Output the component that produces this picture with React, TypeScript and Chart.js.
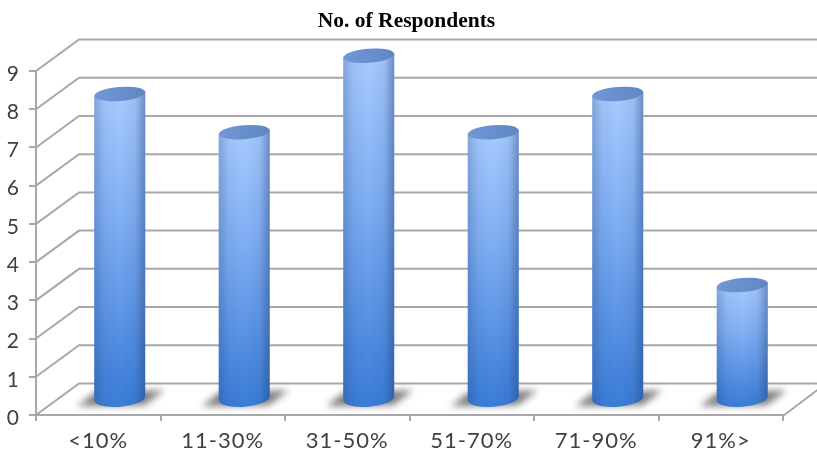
import React, { useEffect, useRef } from "react";
import { Chart, CategoryScale, registerables } from "chart.js";

// Category axis whose tick labels are set with a little extra tracking.
class SpacedCategoryScale extends CategoryScale {
  static id = "spacedCategory";
  static defaults = CategoryScale.defaults;
  drawLabels(area: any) {
    const ctx = (this as any).ctx;
    ctx.save();
    ctx.letterSpacing = "1px";
    (CategoryScale.prototype as any).drawLabels.call(this, area);
    ctx.restore();
  }
}

Chart.register(...registerables, SpacedCategoryScale);

const categories = ["<10%", "11-30%", "31-50%", "51-70%", "71-90%", "91%>"];
const respondents = [8, 7, 9, 7, 8, 3];
const yTicks = [0, 1, 2, 3, 4, 5, 6, 7, 8, 9];
const chartTitle = "No. of Respondents";

const GRID = "#a8a8a8";
const DEPTH_X = 43;
const DEPTH_Y = 31.5;
const TILT = -0.08;

// Perspective walls and floor, drawn behind the columns from the y scale.
const wallGrid = {
  id: "wallGrid",
  beforeDatasetsDraw(chart: any) {
    const { ctx, chartArea, scales } = chart;
    ctx.save();
    ctx.strokeStyle = GRID;
    ctx.lineWidth = 2;
    for (const v of yTicks) {
      const y = scales.y.getPixelForValue(v);
      ctx.beginPath();
      ctx.moveTo(chartArea.left, y);
      ctx.lineTo(chartArea.left + DEPTH_X, y - DEPTH_Y);
      ctx.lineTo(chartArea.right + DEPTH_X, y - DEPTH_Y);
      ctx.stroke();
    }
    const y0 = scales.y.getPixelForValue(0);
    ctx.beginPath();
    ctx.moveTo(chartArea.right, y0 + 1);
    ctx.lineTo(chartArea.right + DEPTH_X, y0 - DEPTH_Y);
    ctx.stroke();
    ctx.restore();
  },
};

// Each bar element becomes a cylinder standing halfway back on the floor.
const cylinders = {
  id: "cylinders",
  afterDatasetsDraw(chart: any) {
    const { ctx } = chart;
    const offX = DEPTH_X / 2;
    const offY = DEPTH_Y / 2;
    for (const bar of chart.getDatasetMeta(0).data) {
      const cx = bar.x + offX;
      const rx = bar.width / 2;
      const topY = bar.y - offY;
      const baseY = bar.base - offY;
      const left = cx - rx;
      const right = cx + rx;

      // soft floor shadow
      ctx.save();
      ctx.filter = "blur(3.5px)";
      ctx.fillStyle = "rgba(95,95,95,0.8)";
      ctx.beginPath();
      ctx.moveTo(cx - rx - 17, baseY + 8);
      ctx.lineTo(cx - rx + 1, baseY - 6);
      ctx.lineTo(cx + rx + 19, baseY - 8);
      ctx.lineTo(cx + rx - 1, baseY + 7);
      ctx.closePath();
      ctx.fill();
      ctx.restore();

      const dy = rx * Math.sin(-TILT);
      const body = () => {
        ctx.beginPath();
        ctx.moveTo(left, topY + dy);
        ctx.lineTo(left, baseY + dy);
        ctx.ellipse(cx, baseY, rx, 8.5, TILT, Math.PI, 0, true);
        ctx.lineTo(right, topY - dy);
        ctx.closePath();
      };

      ctx.save();
      const vert = ctx.createLinearGradient(0, topY, 0, baseY + 8);
      vert.addColorStop(0, "#a8cbff");
      vert.addColorStop(0.4, "#80aff4");
      vert.addColorStop(1, "#3a7dd8");
      body();
      ctx.fillStyle = vert;
      ctx.fill();

      const horiz = ctx.createLinearGradient(left, 0, right, 0);
      horiz.addColorStop(0, "rgba(25,55,110,0.26)");
      horiz.addColorStop(0.2, "rgba(25,55,110,0.06)");
      horiz.addColorStop(0.5, "rgba(25,55,110,0)");
      horiz.addColorStop(0.8, "rgba(25,55,110,0.08)");
      horiz.addColorStop(1, "rgba(25,55,110,0.42)");
      body();
      ctx.fillStyle = horiz;
      ctx.fill();

      const cap = ctx.createLinearGradient(left, 0, right, 0);
      cap.addColorStop(0, "#7098d6");
      cap.addColorStop(1, "#5f87c4");
      ctx.beginPath();
      ctx.ellipse(cx, topY + 0.5, rx, 7, TILT, 0, Math.PI * 2);
      ctx.fillStyle = cap;
      ctx.fill();
      ctx.restore();
    }
  },
};

export default function App() {
  const canvasRef = useRef<HTMLCanvasElement>(null);

  useEffect(() => {
    const chart = new Chart(canvasRef.current as HTMLCanvasElement, {
      type: "bar",
      data: {
        labels: categories,
        datasets: [
          {
            label: chartTitle,
            data: respondents,
            backgroundColor: "rgba(0,0,0,0)",
            barPercentage: 0.41,
            categoryPercentage: 1,
            yAxisID: "y",
          },
        ],
      },
      plugins: [wallGrid, cylinders],
      options: {
        responsive: false,
        animation: false,
        events: [],
        layout: { padding: { right: 4 } },
        plugins: {
          legend: { display: false },
          tooltip: { enabled: false },
          title: {
            display: true,
            text: chartTitle,
            color: "#000000",
            font: { family: "'Liberation Serif'", size: 21.5, weight: "bold", lineHeight: 1.2 },
            padding: { top: 9, bottom: 36.2 },
          },
        },
        scales: {
          x: {
            type: "spacedCategory",
            offset: true,
            afterFit(scale: any) {
              scale.height = 37;
            },
            border: { color: GRID, width: 2 },
            grid: {
              offset: true,
              drawOnChartArea: false,
              drawTicks: true,
              tickLength: 6,
              color: GRID,
              lineWidth: 2,
            },
            ticks: {
              color: "#404040",
              font: { family: "Lato", size: 22 },
              padding: 7,
              maxRotation: 0,
              autoSkip: false,
            },
          },
          y: {
            min: 0,
            max: 9,
            afterFit(scale: any) {
              scale.width = 36;
            },
            border: { color: GRID, width: 2 },
            grid: {
              drawOnChartArea: false,
              drawTicks: true,
              tickLength: 7,
              color: GRID,
              lineWidth: 2,
            },
            ticks: {
              stepSize: 1,
              color: "#404040",
              font: { family: "Lato", size: 21 },
              padding: 10,
              labelOffset: 3,
            },
          },
          // Reserves the margin that the receding walls run into on the right.
          margin: {
            position: "right",
            min: 0,
            max: 1,
            afterFit(scale: any) {
              scale.width = 30;
            },
            border: { display: false },
            grid: { display: false },
            ticks: { display: false },
          },
        },
      },
    });
    return () => chart.destroy();
  }, []);

  return (
    <canvas
      ref={canvasRef}
      width={817}
      height={452}
      style={{ position: "fixed", left: 0, top: 0, background: "#ffffff" }}
    />
  );
}
